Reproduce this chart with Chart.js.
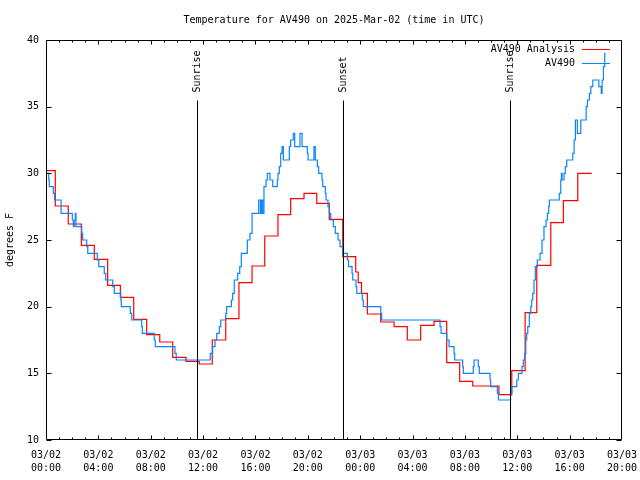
<!DOCTYPE html>
<html>
<head>
<meta charset="utf-8">
<title>Temperature for AV490</title>
<script src="https://cdn.jsdelivr.net/npm/chart.js@4.4.1/dist/chart.umd.min.js"></script>
<style>
  html, body { margin: 0; padding: 0; background: #fff; }
</style>
</head>
<body>
<canvas id="temp-chart" width="640" height="480"></canvas>
<script>
const TITLE = 'Temperature for AV490 on 2025-Mar-02 (time in UTC)';
const MONO = '"DejaVu Sans Mono", "Liberation Mono", monospace';

// x values are hours since 03/02 00:00 UTC
const analysisHours = [0, 0.71, 1.70, 2.70, 3.69, 4.71, 5.68, 6.70, 7.69, 8.69, 9.68, 10.70, 11.71,
  12.70, 13.73, 14.74, 15.74, 16.71, 17.72, 18.69, 19.71, 20.68, 21.64, 22.67, 23.66, 23.85, 24.1,
  24.55, 25.57, 26.59, 27.6, 28.62, 29.64, 30.61, 31.6, 32.6, 34.6, 35.58, 36.6, 37.49, 38.56,
  39.52, 40.62, 41.69];
const analysisTemps = [30.2, 27.55, 26.2, 24.6, 23.55, 21.6, 20.7, 19.05, 17.9, 17.35, 16.2, 15.9, 15.7,
  17.5, 19.1, 21.8, 23.05, 25.3, 26.9, 28.1, 28.5, 27.75, 26.55, 23.75, 22.6, 21.8, 21.0,
  19.45, 18.85, 18.5, 17.5, 18.6, 18.9, 15.8, 14.4, 14.05, 13.4, 15.2, 19.55, 23.1, 26.3,
  27.95, 30.0, 30.0];

const stationHours = [0, 0.21, 0.25, 0.56, 0.66, 1.15, 2.01, 2.09, 2.16, 2.24, 2.29, 2.73, 2.80,
  3.11, 3.19, 3.92, 4.03, 4.45, 4.56, 5.10, 5.22, 5.71, 5.75, 6.44, 6.55, 7.31, 7.36, 8.27, 8.35,
  9.85, 9.95, 12.55, 12.73, 12.91, 13.04, 13.24, 13.35, 13.73, 13.80, 14.16, 14.26, 14.38, 14.64,
  14.80, 14.92, 15.38, 15.58, 15.74, 16.25, 16.38, 16.45, 16.55, 16.65, 16.81, 16.91, 17.11, 17.32,
  17.67, 17.72, 17.82, 17.93, 18.03, 18.13, 18.59, 18.69, 18.89, 19.00, 19.40, 19.56, 19.96, 20.02,
  20.47, 20.57, 20.73, 20.83, 21.08, 21.14, 21.34, 21.39, 21.54, 21.64, 21.75, 21.95, 22.10, 22.31,
  22.46, 22.67, 23.02, 23.11, 23.38, 23.43, 23.68, 23.74, 24.16, 24.24, 25.57, 25.64, 30.10, 30.18,
  30.61, 30.79, 31.17, 31.22, 31.83, 31.88, 32.64, 32.70, 33.02, 33.10, 33.92, 33.97, 34.48, 34.56,
  35.49, 35.58, 35.96, 36.08, 36.36, 36.46, 36.57, 36.65, 36.72, 36.80, 36.92, 37.03, 37.10, 37.18,
  37.28, 37.38, 37.53, 37.74, 37.89, 38.04, 38.20, 38.30, 38.40, 38.45, 39.21, 39.32, 39.37, 39.42,
  39.57, 39.67, 39.78, 40.24, 40.34, 40.44, 40.59, 40.85, 41.26, 41.36, 41.51, 41.62, 41.77, 42.23,
  42.42, 42.48, 42.58, 42.68, 42.74];
const stationTemps = [30.0, 29.5, 29.0, 28.5, 28.0, 27.0, 26.5, 26.0, 26.5, 27.0, 26.0, 25.5, 25.0,
  24.5, 24.0, 23.5, 23.0, 22.5, 22.0, 21.5, 21.0, 20.5, 20.0, 19.5, 19.0, 18.5, 18.0, 17.5, 17.0,
  16.5, 16.0, 16.5, 17.0, 17.5, 18.0, 18.5, 19.0, 19.5, 20.0, 20.5, 21.0, 22.0, 22.5,
  23.0, 24.0, 25.0, 25.5, 27.0, 28.0, 27.0, 28.0, 27.0, 29.0, 29.5, 30.0, 29.5, 29.0,
  29.5, 30.0, 30.5, 31.5, 32.0, 31.0, 32.0, 32.5, 33.0, 32.0, 33.0, 32.0, 31.5, 31.0,
  32.0, 31.0, 30.5, 30.0, 29.5, 29.0, 28.5, 28.0, 27.5, 27.0, 26.5, 26.0, 25.5, 25.0,
  24.5, 24.0, 23.5, 23.0, 22.5, 22.0, 21.5, 21.0, 20.5, 20.0, 19.5, 19.0, 18.5, 18.0,
  17.5, 17.0, 16.5, 16.0, 15.5, 15.0, 15.5, 16.0, 15.5, 15.0, 14.5, 14.0, 13.5, 13.0,
  13.5, 14.0, 14.5, 15.0, 15.5, 16.0, 16.5, 17.5, 18.0, 18.5, 19.5, 20.0, 20.5, 21.0,
  22.0, 23.0, 23.5, 24.0, 25.0, 26.0, 26.5, 27.0, 27.5, 28.0, 28.5, 29.5, 30.0, 29.5,
  30.0, 30.5, 31.0, 31.5, 32.5, 34.0, 33.0, 34.0, 35.0, 35.5, 36.0, 36.5, 37.0, 36.5,
  36.0, 37.0, 38.0, 39.0, 39.0];

const xTickLabels = [
  ['03/02', '00:00'], ['03/02', '04:00'], ['03/02', '08:00'], ['03/02', '12:00'],
  ['03/02', '16:00'], ['03/02', '20:00'], ['03/03', '00:00'], ['03/03', '04:00'],
  ['03/03', '08:00'], ['03/03', '12:00'], ['03/03', '16:00'], ['03/03', '20:00']
];

const sunLabels = ['Sunrise', 'Sunset', 'Sunrise'];
const sunHours = [11.51, 22.71, 35.48];

const seriesNames = ['AV490 Analysis', 'AV490'];
const seriesColors = ['#ff0000', '#0a84ff'];

const toPoints = (xs, ys) => xs.map((h, i) => ({x: h, y: ys[i]}));

// gnuplot-ish frame: box, inward ticks on all four sides, title, sun lines, legend
const gnuplotLook = {
  id: 'gnuplotLook',
  afterDatasetsDraw(chart) {
    const {ctx, chartArea: a, scales: {x, y}} = chart;
    const L = Math.round(a.left) + 0.5, R = Math.round(a.right) - 0.5;
    const T = Math.round(a.top) + 0.5, B = Math.round(a.bottom) - 0.5;
    ctx.save();
    ctx.strokeStyle = '#000';
    ctx.lineWidth = 1;

    // sunrise / sunset markers
    ctx.font = '10px ' + MONO;
    ctx.fillStyle = '#000';
    sunHours.forEach((h, i) => {
      const px = Math.round(x.getPixelForValue(h)) + 0.5;
      ctx.beginPath();
      ctx.moveTo(px, T + 60);
      ctx.lineTo(px, B);
      ctx.stroke();
      ctx.save();
      ctx.translate(px, T + 52);
      ctx.rotate(-Math.PI / 2);
      ctx.textAlign = 'left';
      ctx.textBaseline = 'middle';
      ctx.fillText(sunLabels[i], 0, 0);
      ctx.restore();
    });

    ctx.beginPath();
    ctx.rect(L, T, R - L, B - T);
    // hourly ticks, longer at the labelled ones
    for (let h = 1; h < 44; h++) {
      const px = Math.round(x.getPixelForValue(h)) + 0.5;
      const len = h % 4 === 0 ? 4 : 2;
      ctx.moveTo(px, B); ctx.lineTo(px, B - len);
      ctx.moveTo(px, T); ctx.lineTo(px, T + len);
    }
    y.ticks.forEach(t => {
      const py = Math.round(y.getPixelForValue(t.value)) + 0.5;
      ctx.moveTo(L, py); ctx.lineTo(L + 5, py);
      ctx.moveTo(R, py); ctx.lineTo(R - 5, py);
    });
    ctx.stroke();

    // title
    ctx.textAlign = 'center';
    ctx.textBaseline = 'middle';
    ctx.fillText(TITLE, (a.left + a.right) / 2, 20);

    // key, top right inside the box
    ctx.textAlign = 'right';
    seriesNames.forEach((name, i) => {
      const ly = Math.round(a.top) + 9 + i * 14;
      ctx.fillStyle = '#000';
      ctx.fillText(name, a.right - 47, ly);
      ctx.strokeStyle = seriesColors[i];
      ctx.beginPath();
      ctx.moveTo(a.right - 40, ly + 0.5);
      ctx.lineTo(a.right - 12, ly + 0.5);
      ctx.stroke();
    });
    ctx.restore();
  }
};

const data = {
  datasets: [{
    label: seriesNames[1],
    data: toPoints(stationHours, stationTemps),
    borderColor: seriesColors[1],
    order: 0
  }, {
    label: seriesNames[0],
    data: toPoints(analysisHours, analysisTemps),
    borderColor: seriesColors[0],
    order: 1
  }]
};

const config = {
  type: 'line',
  data: data,
  options: {
    responsive: false,
    animation: false,
    events: [],
    layout: {padding: {top: 40, right: 18, left: 0, bottom: 0}},
    elements: {
      line: {borderWidth: 1.2, stepped: true, tension: 0, fill: false},
      point: {radius: 0}
    },
    plugins: {legend: {display: false}, tooltip: {enabled: false}, title: {display: false}},
    scales: {
      x: {
        type: 'linear',
        min: 0,
        max: 44,
        grid: {display: false, drawTicks: false},
        border: {display: false},
        ticks: {
          stepSize: 4,
          autoSkip: false,
          maxRotation: 0,
          padding: 9,
          color: '#000',
          font: {family: MONO, size: 10, lineHeight: 1.3},
          callback: v => xTickLabels[Math.round(v / 4)]
        },
        afterFit: s => { s.height = 40; s.paddingLeft = 0; s.paddingRight = 0; }
      },
      y: {
        min: 10,
        max: 40,
        grid: {display: false, drawTicks: false},
        border: {display: false},
        ticks: {stepSize: 5, padding: 7, color: '#000', font: {family: MONO, size: 10}},
        title: {display: true, text: 'degrees F', color: '#000', font: {family: MONO, size: 10}, padding: {top: 4, bottom: 0}},
        afterFit: s => { s.width = 46; s.paddingTop = 0; s.paddingBottom = 0; }
      }
    }
  },
  plugins: [gnuplotLook]
};

const tempChart = new Chart(document.getElementById('temp-chart'), config);
</script>
</body>
</html>
